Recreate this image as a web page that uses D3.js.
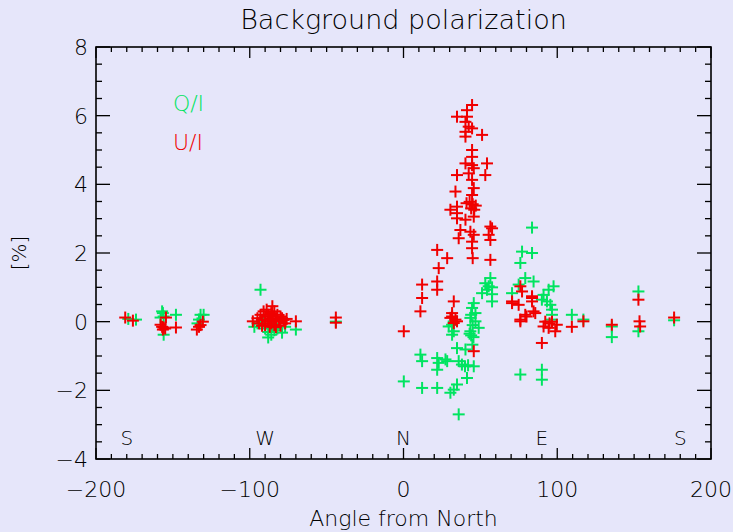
<!DOCTYPE html>
<html>
<head>
<meta charset="utf-8">
<script src="https://cdn.jsdelivr.net/npm/d3@7"></script>
<style>
  html, body { margin: 0; padding: 0; background: #e6e6fa; }
  svg { display: block; }
  text { font-family: "DejaVu Sans", "Liberation Sans", sans-serif; font-weight: 300; fill: #000; }
</style>
</head>
<body>
<svg id="chart" width="733" height="532"></svg>
<script>
// ---- data ----
const title = "Background polarization";
const xLabel = "Angle from North";
const yLabel = "[%]";
const xTicks = [-200, -100, 0, 100, 200];
const yTicks = [-4, -2, 0, 2, 4, 6, 8];
const compassAngles = [-180, -90, 0, 90, 180];
const compassLabels = ["S", "W", "N", "E", "S"];
const seriesNames = ["Q/I", "U/I"];

// Q/I (green)
const qAngle = [
  -179, -174,
  -158, -156.5, -156, -148, -156, -157,
  -132, -133, -130, -134,
  -93, -97, -95, -90, -88, -86, -88, -84, -79, -77, -82, -70, -44, -91, -85,
  0.2, 11, 12.1, 12.1, 21.9, 22.9, 21.9, 21.9, 27.3, 28.4, 29.4, 30.5, 31.6, 32.7, 31.6, 32.7,
  34.8, 34.8, 35.9, 35.9, 38, 40, 42, 40.3, 41.3, 43.5, 43.5, 43, 44, 45.5, 44.8, 44.6, 45.7,
  46.8, 46.8, 45, 44, 48.9, 45.7, 51.1, 54.3, 55.4, 53.2, 56.5, 57.6, 57.6, 57.6,
  70.6, 74.9, 76, 77.1, 79.2, 83.6, 83.6, 84.6, 76, 90, 90,
  90, 91.1, 93.3, 94.4, 95.5, 96.6, 96.6, 96.6, 97.6,
  109.5, 117, 135.5, 135.5, 152.8, 152.8, 176
];
const qValue = [
  0.08, 0.06,
  0.12, 0.25, 0.15, 0.2, -0.38, 0.3,
  0.2, 0.06, 0.2, -0.05,
  0.93, -0.15, -0.05, -0.2, -0.3, -0.38, -0.46, -0.25, -0.32, -0.15, -0.2, -0.23, 0.0, 0.0, -0.1,
  -1.74, -0.96, -1.15, -1.93, -1.06, -1.2, -1.4, -1.93, -1.1, -1.15, -0.14, -2.07, -0.09, -0.28, -0.38, -1.98,
  -1.83, -0.77, -1.15, -2.7, -1.25, -1.3, -1.27, -0.81, -1.64, 0.11, -0.28, -0.35, -0.4, -0.45, -0.67, 0.4, 0.54,
  0.25, 0.01, -0.1, 0.2, -0.18, -1.3, 0.83, 0.93, 1.03, 1.12, 1.27, 0.59, 1.0, 0.8,
  0.83, 1.08, 1.71, 2.04, 1.27, 2.0, 2.74, 1.17, -1.54, -1.4, -1.69,
  0.64, 0.78, 0.59, 0.93, 0.49, 0.35, 0.2, 0.06, 1.03,
  0.2, 0.06, -0.14, -0.45, 0.88, -0.28, 0.04
];

// U/I (red)
const uAngle = [
  -181, -176,
  -158, -156, -156.5, -155, -154.5, -157, -148,
  -130.5, -133, -134.4, -132,
  -98, -95, -94, -93, -92, -91, -90, -90, -89, -88, -88, -87, -86, -86, -85.3, -85, -84, -84,
  -83, -82, -81, -80, -80, -79, -78, -77, -76, -92, -87, -83, -70, -44, -44,
  0.2, 11, 12.1, 12.1, 21.9, 21.9, 22.9, 21.9, 28.4, 30.5, 31.6, 31.6, 32.7, 33.8, 34.8, 32.7, 45.7,
  44.6, 41.3, 34.8, 41.3, 40.3, 42.4, 44.6, 40.3, 51.1, 40.3,
  44.6, 44.6, 40.3, 44.6, 54.3, 45.7, 42.4, 34.8, 53.2, 44.6, 45.7, 33.8, 44.6,
  41, 43, 45, 47, 44, 46, 34.8, 30.5, 34.8, 34.8, 40.3, 45.7,
  56.5, 37, 43.5, 45.7, 55.4, 35.9, 56.5, 44.6, 44.6, 45, 56.5, 57.6,
  70.6, 70.6, 74.9, 76, 77.1, 76, 76, 79.2, 80, 83.6, 83.6, 83.6, 84.6, 85.7,
  90, 92.2, 96.6, 99.7, 94.4, 91.1, 98.7, 95,
  109.5, 117, 135.5, 152.8, 153.5, 153.9, 176
];
const uValue = [
  0.12, 0.03,
  -0.09, -0.17, -0.23, -0.2, 0.12, -0.15, -0.17,
  0.0, -0.15, -0.23, -0.1,
  0.01, 0.1, -0.05, 0.2, 0.05, 0.3, 0.15, -0.1, 0.35, 0.0, 0.2, 0.1, 0.25, -0.05, 0.45, 0.15, 0.3, -0.1,
  0.05, 0.2, 0.0, 0.15, -0.12, 0.1, 0.05, -0.05, 0.08, -0.12, -0.15, -0.16, 0.01, 0.12, -0.03,
  -0.28, 0.3, 0.69, 1.08, 0.93, 1.17, 1.56, 2.09, 1.85, 0.11, 0.25, 0.15, -0.04, 0.06, 0.01, 0.59, -0.86,
  6.31, 6.16, 5.97, 5.97, 5.82, 5.68, 5.63, 5.53, 5.44, 5.39,
  5.0, 4.8, 4.61, 4.56, 4.61, 4.47, 4.32, 4.27, 4.27, 4.13, 3.89, 3.79, 3.69,
  3.45, 3.49, 3.42, 3.38, 3.3, 3.26, 3.35, 3.26, 3.16, 3.01, 2.97, 3.06,
  2.77, 2.67, 2.62, 2.53, 2.53, 2.43, 2.38, 2.33, 2.14, 1.85, 1.8, 2.72,
  0.59, 0.54, 0.49, 1.03, 0.88, 0.01, 0.06, 0.2, 0.15, 0.74, 0.69, 0.59, 0.3, 0.25,
  -0.62, 0.0, 0.0, -0.09, -0.18, -0.14, -0.28, -0.05,
  -0.15, 0.01, -0.09, 0.64, 0.01, -0.14, 0.12
];

// ---- layout ----
const W = 733, H = 532;
const plot = { left: 96, right: 711, top: 47, bottom: 459 };
const colors = { q: "rgb(0,228,96)", u: "rgb(240,0,0)" };

const svg = d3.select("#chart");
svg.append("rect").attr("width", W).attr("height", H).attr("fill", "#e6e6fa");

const x = d3.scaleLinear().domain([-200, 200]).range([plot.left, plot.right]);
const y = d3.scaleLinear().domain([-4, 8]).range([plot.bottom, plot.top]);

const axisColor = "#000";
const g = svg.append("g");

// frame
g.append("rect")
  .attr("x", plot.left).attr("y", plot.top)
  .attr("width", plot.right - plot.left).attr("height", plot.bottom - plot.top)
  .attr("fill", "none").attr("stroke", axisColor).attr("stroke-width", 1.6);

// ticks
const majLen = 11, minLen = 5;
const xMinor = d3.range(-200, 201, 10);
const yMinor = d3.range(-4, 8.001, 0.5);
xMinor.forEach(v => {
  const L = (v % 100 === 0) ? majLen : minLen;
  g.append("line").attr("x1", x(v)).attr("x2", x(v)).attr("y1", plot.bottom).attr("y2", plot.bottom - L)
    .attr("stroke", axisColor).attr("stroke-width", 1.3);
  g.append("line").attr("x1", x(v)).attr("x2", x(v)).attr("y1", plot.top).attr("y2", plot.top + L)
    .attr("stroke", axisColor).attr("stroke-width", 1.3);
});
yMinor.forEach(v => {
  const isMaj = Math.abs(v / 2 - Math.round(v / 2)) < 1e-6;
  const L = isMaj ? majLen + 3 : minLen + 1;
  g.append("line").attr("y1", y(v)).attr("y2", y(v)).attr("x1", plot.left).attr("x2", plot.left + L)
    .attr("stroke", axisColor).attr("stroke-width", 1.3);
  g.append("line").attr("y1", y(v)).attr("y2", y(v)).attr("x1", plot.right).attr("x2", plot.right - L)
    .attr("stroke", axisColor).attr("stroke-width", 1.3);
});

// tick labels
const fmt = v => (v < 0 ? "\u2212" + Math.abs(v) : String(v));
g.selectAll(".xt").data(xTicks).enter().append("text")
  .attr("x", d => x(d)).attr("y", plot.bottom + 38)
  .attr("text-anchor", "middle").attr("font-size", 22).text(fmt);
g.selectAll(".yt").data(yTicks).enter().append("text")
  .attr("x", plot.left - 8).attr("y", d => y(d) + 8)
  .attr("text-anchor", "end").attr("font-size", 22).text(fmt);

// compass letters
g.selectAll(".cp").data(compassAngles).enter().append("text")
  .attr("x", d => x(d)).attr("y", plot.bottom - 14)
  .attr("text-anchor", "middle").attr("font-size", 20)
  .text((d, i) => compassLabels[i]);

// title and axis labels
svg.append("text").attr("x", x(0)).attr("y", 29).attr("text-anchor", "middle")
  .attr("font-size", 27).text(title);
svg.append("text").attr("x", x(0)).attr("y", 526).attr("text-anchor", "middle")
  .attr("font-size", 22).text(xLabel);
svg.append("text").attr("transform", `translate(26,${y(2)}) rotate(-90)`)
  .attr("text-anchor", "middle").attr("font-size", 20).text(yLabel);

// legend
svg.append("text").attr("x", x(-150)).attr("y", 111).attr("font-size", 22)
  .attr("fill", colors.q).style("fill", colors.q).text(seriesNames[0]);
svg.append("text").attr("x", x(-150)).attr("y", 150).attr("font-size", 22)
  .attr("fill", colors.u).style("fill", colors.u).text(seriesNames[1]);

// plus markers
const half = 6;
function drawPlus(angles, values, color) {
  const pts = angles.map((a, i) => [a, values[i]]);
  const gg = svg.append("g").attr("stroke", color).attr("stroke-width", 2);
  const sel = gg.selectAll("g").data(pts).enter().append("g")
    .attr("transform", d => `translate(${x(d[0])},${y(d[1])})`);
  sel.append("line").attr("x1", -half).attr("x2", half).attr("y1", 0).attr("y2", 0);
  sel.append("line").attr("y1", -half).attr("y2", half).attr("x1", 0).attr("x2", 0);
}
drawPlus(qAngle, qValue, colors.q);
drawPlus(uAngle, uValue, colors.u);
</script>
</body>
</html>
